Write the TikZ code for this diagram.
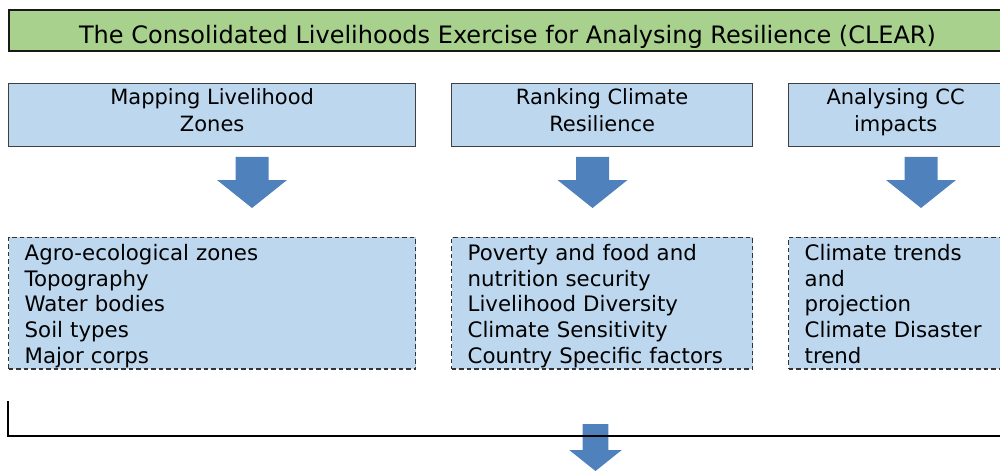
\documentclass[tikz,border=0pt]{standalone}
\usepackage{fontspec}
\setmainfont{DejaVu Sans}
\definecolor{bannergreen}{HTML}{A9D18E}
\definecolor{boxblue}{HTML}{BDD7EE}
\definecolor{arrowblue}{HTML}{4F81BD}
\definecolor{edgegray}{HTML}{404040}
\definecolor{dashgray}{HTML}{333333}
\newcommand{\hdtop}{\rule{0pt}{18.7pt}}
\newcommand{\hdbot}{\rule[-13pt]{0pt}{0pt}}
\newcommand{\lstop}{\rule{0pt}{22.9pt}}
\newcommand{\lsbot}{\rule[-5.5pt]{0pt}{0pt}}
\begin{document}
\begin{tikzpicture}[x=1pt,y=-1pt,
  banner/.style={draw=black!90, line width=2.2pt, fill=bannergreen, anchor=north west,
    minimum height=41pt, inner sep=0pt},
  titletext/.style={anchor=base, inner sep=0pt, font=\fontsize{24}{28}\selectfont},
  headbox/.style={draw=edgegray, line width=1.3pt, fill=boxblue, anchor=north west,
    minimum height=63pt, inner sep=0pt, align=center, font=\fontsize{21}{26.7}\selectfont},
  listbox/.style={draw=dashgray, line width=1.4pt, dash pattern=on 4.5pt off 3pt, fill=boxblue,
    anchor=north west, minimum height=131pt, inner xsep=16pt, inner ysep=0pt, align=left,
    font=\fontsize{21.3}{25.8}\selectfont},
  blockarrow/.pic={\fill[arrowblue] (-16.5,0) -- (16.5,0) -- (16.5,23) -- (35,23) -- (0,51)
    -- (-35,23) -- (-16.5,23) -- cycle;},
  smallarrow/.pic={\fill[arrowblue] (-12.8,0) -- (12.8,0) -- (12.8,26) -- (26.3,26) -- (0,47)
    -- (-26.3,26) -- (-12.8,26) -- cycle;}
]
\useasboundingbox (0,0) rectangle (1000,473);
\node[banner, minimum width=1002pt] (title) at (8,9) {};
\node[titletext] (titlelabel) at (507.5,43.3)
  {The Consolidated Livelihoods Exercise for Analysing Resilience (CLEAR)};
\node[headbox, minimum width=407pt] (h1) at (8,83) {\hdtop Mapping Livelihood\\Zones\hdbot};
\node[headbox, minimum width=301pt] (h2) at (451,83) {\hdtop Ranking Climate\\Resilience\hdbot};
\node[headbox, minimum width=214pt] (h3) at (788,83) {\hdtop Analysing CC\\impacts\hdbot};
\pic at (252,157) {blockarrow};
\pic at (592.5,157) {blockarrow};
\pic at (921,157) {blockarrow};
\node[listbox, text width=375pt] (l1) at (8,236.7)
  {\lstop Agro-ecological zones\\Topography\\Water bodies\\Soil types\\Major corps\lsbot};
\node[listbox, text width=269pt] (l2) at (451,236.7)
  {\lstop Poverty and food and\\nutrition security\\Livelihood Diversity\\Climate Sensitivity\\Country Specific factors\lsbot};
\node[listbox, text width=182pt] (l3) at (788,236.7)
  {\lstop Climate trends\\and\\projection\\Climate Disaster\\trend\lsbot};
\pic at (595.5,424) {smallarrow};
\coordinate (b0) at (8,401);
\coordinate (b1) at (8,436);
\coordinate (b2) at (1000,436);
\draw[line width=1.6pt, black] (b0) -- (b1) -- (b2);
\end{tikzpicture}
\end{document}
